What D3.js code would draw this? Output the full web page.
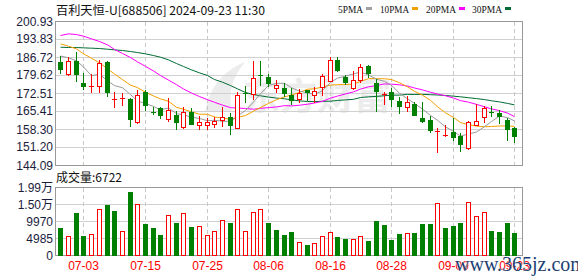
<!DOCTYPE html>
<html>
<head>
<meta charset="utf-8">
<script src="https://cdn.jsdelivr.net/npm/d3@7"></script>
<style>
  body { margin: 0; background: #fff; }
  svg { display: block; }
</style>
</head>
<body>
<div id="chart"></div>
<script>
// trading days shown, 06-28 .. 09-23
var dates = ["06-28","07-01","07-02","07-03","07-04","07-05","07-08","07-09","07-10","07-11",
  "07-12","07-15","07-16","07-17","07-18","07-19","07-22","07-23","07-24","07-25",
  "07-26","07-29","07-30","07-31","08-01","08-02","08-05","08-06","08-07","08-08",
  "08-09","08-12","08-13","08-14","08-15","08-16","08-19","08-20","08-21","08-22",
  "08-23","08-26","08-27","08-28","08-29","08-30","09-02","09-03","09-04","09-05",
  "09-06","09-09","09-10","09-11","09-12","09-13","09-18","09-19","09-20","09-23"];

var open = [184.87,180.27,185.53,176.58,175.4,175.53,185.0,170.4,170.66,170.26,
  161.45,173.03,165.13,166.97,162.5,164.21,159.21,165.13,160.13,160.13,
  160.4,162.24,163.16,158.95,172.63,172.37,179.74,178.95,174.61,174.87,
  172.11,170.4,173.95,172.11,175.26,177.63,185.92,178.95,174.61,178.03,
  183.42,176.58,172.5,173.03,169.6,167.37,168.29,162.76,161.97,157.7,
  156.18,157.24,155.66,150.92,160.13,163.29,165.26,164.87,161.97,158.82];
var high = [187.5,187.1,188.8,180.66,180.27,185.66,185.27,173.03,172.63,170.66,
  173.7,173.95,167.11,167.11,170.66,165.79,167.37,166.97,163.82,163.03,
  163.29,167.11,164.87,173.03,175.66,185.26,185.53,180.26,178.03,176.71,
  174.74,174.34,174.08,175.0,180.4,186.97,186.97,179.87,181.58,184.08,
  183.82,178.29,173.29,174.6,171.19,171.45,169.08,169.08,163.55,158.82,
  160.13,162.9,156.84,161.84,168.42,167.5,167.5,166.18,162.76,159.47];
var low = [180.3,179.34,177.24,173.95,172.76,172.76,171.05,166.71,167.5,159.34,
  160.66,165.79,164.08,162.5,161.45,158.16,158.55,160.0,158.16,158.16,
  158.95,159.21,156.18,158.55,168.68,170.13,175.4,175.0,172.76,171.05,
  168.03,168.68,169.74,168.95,171.71,177.24,180.92,175.92,173.95,176.71,
  178.55,165.4,168.03,167.1,164.47,165.13,163.55,160.92,156.97,149.08,
  155.26,153.82,149.61,150.4,160.13,160.92,163.16,160.53,153.95,153.03];
var close = [181.84,185.53,179.87,175.0,175.4,184.74,172.63,170.4,170.66,161.97,
  172.1,167.5,164.87,163.68,165.92,160.79,165.13,160.26,161.18,161.45,
  161.71,163.29,159.87,171.84,172.24,178.55,179.47,176.32,176.05,172.24,
  169.74,172.9,172.76,173.42,179.34,185.92,181.45,176.71,177.9,182.9,
  180.26,173.03,172.5,170.0,167.24,169.34,163.82,161.32,157.63,157.7,
  156.18,154.87,152.24,161.45,161.84,166.71,165.0,163.16,158.16,155.4];
var volume = [8170,5740,12550,5740,6320,13720,14890,13140,7200,18680,
  15080,9340,7980,6130,11870,9630,12450,8470,8660,6030,
  7200,10510,9630,13620,7200,12750,13620,9630,7590,6130,
  7010,3990,3210,3700,5740,6910,5550,4960,4960,5740,
  4380,10220,9050,4670,6420,6620,6710,9340,9340,15370,
  8170,8760,9630,15670,11580,12750,7300,7010,9630,6722];

var ma5 = [187.3,186.6,185.4,183.0,179.53,180.11,177.53,175.63,174.77,172.08,
  169.55,168.53,167.42,166.02,166.81,164.55,164.08,163.16,162.66,161.76,
  161.95,161.58,161.50,163.63,165.79,169.16,172.39,175.68,176.53,176.53,
  174.76,173.45,172.74,172.21,173.63,176.87,178.58,179.37,180.26,180.98,
  179.84,178.16,177.32,175.74,172.61,170.42,168.58,166.34,163.87,161.96,
  159.33,157.54,155.72,156.49,157.32,159.42,161.45,163.63,162.97,161.69];
var ma10 = [192.11,191.19,190.13,188.16,186.45,184.61,182.3,180.2,178.0,175.80,
  174.83,173.03,171.53,170.40,169.45,167.05,166.30,165.29,164.34,164.29,
  163.25,162.83,162.33,163.14,163.78,165.55,166.99,168.59,170.08,171.16,
  171.96,172.92,174.21,174.37,175.08,175.82,176.01,176.05,176.24,177.30,
  178.36,178.37,178.34,178.00,176.79,175.13,173.37,171.83,169.80,167.28,
  164.88,163.06,161.03,160.18,159.64,159.38,159.49,159.68,159.73,159.50];
var ma20 = [195.4,196.05,195.79,195.13,194.08,193.03,191.71,189.9,188.3,186.7,
  185.0,183.2,181.4,179.6,177.8,176.0,174.3,172.7,171.3,170.05,
  169.04,167.93,166.93,166.77,166.61,166.30,166.64,166.94,167.21,167.72,
  167.61,167.88,168.27,168.76,169.43,170.68,171.50,172.32,173.16,174.23,
  175.16,175.65,176.28,176.19,175.94,175.47,174.69,173.94,173.02,172.29,
  171.62,170.71,169.69,169.09,168.22,167.25,166.43,165.75,164.77,163.39];
var ma30 = [190.79,190.66,190.66,190.53,190.4,190.26,190.0,189.74,189.47,189.08,
  188.68,188.16,187.5,186.84,185.79,184.34,183.16,181.84,180.66,179.61,
  178.03,176.97,175.66,174.34,172.9,172.1,171.6,171.1,170.7,170.42,
  170.01,169.59,169.36,169.30,169.43,169.47,169.77,169.98,170.22,170.92,
  171.19,171.37,171.63,171.84,171.88,172.17,172.12,172.16,172.04,171.92,
  171.73,171.45,171.20,170.85,170.50,170.11,169.63,169.19,168.59,168.03];

var priceTicks = [144.09,151.20,158.30,165.41,172.51,179.62,186.72,193.83,200.93];
var volTicks = [0,4985,9970,14955,19940];
var volTickLabels = ["0","4985","9970","1.50万","1.99万"];
var tickDates = ["07-03","07-15","07-25","08-06","08-16","08-28","09-09","09-23"];

var W = 578, H = 276;
var RED = "#ff0000", GREEN = "#008000";
var L = 55.5, R = 522.5;

var svg = d3.select("#chart").append("svg")
  .attr("width", W)
  .attr("height", H)
  .style("font-family", "'Liberation Sans', Arial, 'Noto Sans CJK SC', sans-serif");

var x = d3.scaleBand().domain(dates).range([56.5, 518.2]).padding(0);
var cx = function(d){ return Math.round(x(d) + x.bandwidth()/2); };
var y = d3.scaleLinear().domain([144.09, 200.93]).range([165.5, 21.5]);
var yv = d3.scaleLinear().domain([0, 19940]).range([255.5, 187.5]);

// watermark
svg.append("text")
  .attr("x", 243).attr("y", 110)
  .attr("font-size", 37).attr("font-weight", "bold")
  .attr("font-family", "'Noto Sans CJK SC', sans-serif")
  .attr("fill", "#ececec")
  .text("东方财富");
svg.append("path")
  .attr("d", "M205,112 C210,85 225,70 245,62 C232,78 228,92 232,112 Z")
  .attr("fill", "#ececec");

// grid, price panel
svg.selectAll(".pgrid").data(priceTicks.slice(1, 8)).enter().append("line")
  .attr("x1", L).attr("x2", R)
  .attr("y1", function(d){ return Math.round(y(d) - 0.5) + 0.5; })
  .attr("y2", function(d){ return Math.round(y(d) - 0.5) + 0.5; })
  .attr("stroke", "#d0d0d0");
svg.selectAll(".vgrid").data(volTicks.slice(1, 4)).enter().append("line")
  .attr("x1", L).attr("x2", R)
  .attr("y1", function(d){ return Math.round(yv(d) - 0.5) + 0.5; })
  .attr("y2", function(d){ return Math.round(yv(d) - 0.5) + 0.5; })
  .attr("stroke", "#d0d0d0");

tickDates.forEach(function(d){
  var xx = cx(d) + 0.5;
  svg.append("line").attr("x1", xx).attr("x2", xx).attr("y1", 22).attr("y2", 165)
    .attr("stroke", "#c8c8c8").attr("stroke-dasharray", "4,3");
  svg.append("line").attr("x1", xx).attr("x2", xx).attr("y1", 188).attr("y2", 255)
    .attr("stroke", "#c8c8c8").attr("stroke-dasharray", "4,3");
  svg.append("text").attr("x", xx).attr("y", 270)
    .attr("text-anchor", "middle").attr("font-size", 12).attr("fill", RED)
    .text(d);
});

// frames
svg.append("rect").attr("x", L).attr("y", 21.5).attr("width", R - L).attr("height", 144)
  .attr("fill", "none").attr("stroke", "#999");
svg.append("rect").attr("x", L).attr("y", 187.5).attr("width", R - L).attr("height", 68)
  .attr("fill", "none").attr("stroke", "#999");

// axis labels
svg.selectAll(".plab").data(priceTicks).enter().append("text")
  .attr("x", 53).attr("y", function(d){ return y(d) + 4; })
  .attr("text-anchor", "end").attr("font-size", 12).attr("fill", "#1c1c3c")
  .text(function(d){ return d.toFixed(2); });
svg.selectAll(".vlab").data(volTicks).enter().append("text")
  .attr("x", 53).attr("y", function(d){ return yv(d) + 4; })
  .attr("text-anchor", "end").attr("font-size", 12).attr("fill", "#1c1c3c")
  .text(function(d, i){ return volTickLabels[i]; });

// moving averages
var maList = [[ma30, "#006b33"], [ma20, "#ff00ff"], [ma10, "#f5a000"], [ma5, "#9a9a9a"]];
maList.forEach(function(m){
  var line = d3.line()
    .x(function(d, i){ return cx(dates[i]) + 0.5; })
    .y(function(d){ return y(d); });
  svg.append("path").datum(m[0]).attr("d", line)
    .attr("fill", "none").attr("stroke", m[1]).attr("stroke-width", 1);
});

// candles
dates.forEach(function(d, i){
  var c = cx(d);
  var o = open[i], cl = close[i];
  var col = cl >= o ? RED : GREEN;
  svg.append("line")
    .attr("x1", c + 0.5).attr("x2", c + 0.5)
    .attr("y1", Math.round(y(high[i]))).attr("y2", Math.round(y(low[i])))
    .attr("stroke", col);
  var top = Math.round(y(Math.max(o, cl)));
  var bot = Math.round(y(Math.min(o, cl)));
  if (cl > o) {
    svg.append("rect").attr("x", c - 1.5).attr("y", top + 0.5)
      .attr("width", 4).attr("height", Math.max(bot - top, 1))
      .attr("fill", "#fff").attr("stroke", RED);
  } else if (cl < o) {
    svg.append("rect").attr("x", c - 2).attr("y", top)
      .attr("width", 5).attr("height", Math.max(bot - top, 1))
      .attr("fill", GREEN);
  } else {
    svg.append("line").attr("x1", c - 2).attr("x2", c + 3)
      .attr("y1", top + 0.5).attr("y2", top + 0.5).attr("stroke", RED);
  }
});

// volume bars, colour by close vs previous close
dates.forEach(function(d, i){
  var c = cx(d);
  var prev = i > 0 ? close[i - 1] : open[0];
  var top = Math.round(yv(volume[i]));
  if (close[i] >= prev) {
    svg.append("rect").attr("x", c - 1.5).attr("y", top + 0.5)
      .attr("width", 4).attr("height", 255 - top)
      .attr("fill", "#fff").attr("stroke", RED);
  } else {
    svg.append("rect").attr("x", c - 2).attr("y", top)
      .attr("width", 5).attr("height", 256 - top)
      .attr("fill", GREEN);
  }
});

// title + legend
svg.append("text").attr("x", 56).attr("y", 14.5)
  .attr("font-size", 12).attr("fill", "#111")
  .attr("font-family", "'Noto Sans CJK SC', sans-serif")
  .attr("textLength", 209).attr("lengthAdjust", "spacingAndGlyphs")
  .text("百利天恒-U[688506] 2024-09-23 11:30");

var legend = [["5PMA", "#a0a0a0", 338, 25], ["10PMA", "#f0a000", 380, 29],
  ["20PMA", "#ff00ff", 426, 30], ["30PMA", "#006b33", 472, 30]];
legend.forEach(function(l){
  svg.append("text").attr("x", l[2]).attr("y", 13)
    .attr("font-size", 11).attr("fill", "#111")
    .attr("font-family", "'Liberation Serif', serif")
    .attr("textLength", l[3]).attr("lengthAdjust", "spacingAndGlyphs")
    .text(l[0]);
  svg.append("rect").attr("x", l[2] + l[3] + 3).attr("y", 7)
    .attr("width", 6).attr("height", 3).attr("fill", l[1]);
});

svg.append("text").attr("x", 56).attr("y", 182)
  .attr("font-size", 12).attr("fill", "#111")
  .attr("font-family", "'Noto Sans CJK SC', sans-serif")
  .text("成交量:" + volume[volume.length - 1]);

// site stamp bottom right
svg.append("text").attr("x", 455).attr("y", 271)
  .attr("font-size", 20).attr("font-family", "'Liberation Serif', serif")
  .attr("fill", "#1d3f72").attr("stroke", "#fff").attr("stroke-width", 0.6)
  .attr("paint-order", "stroke")
  .text("www.365jz.com");
</script>
</body>
</html>
